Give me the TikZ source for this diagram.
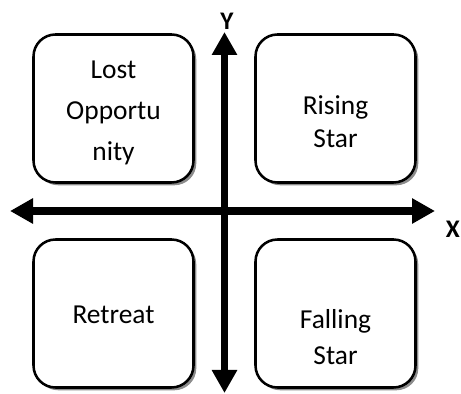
\documentclass[tikz,border=0pt]{standalone}
\usepackage{fontspec}
\setmainfont{Carlito}
\usetikzlibrary{arrows.meta}
\usetikzlibrary{shadows}

\tikzset{
  quadbox/.style={draw, line width=1.8pt, rounded corners=0.55cm, fill=white,
    minimum width=4.0cm, minimum height=3.7cm,
    drop shadow={shadow xshift=0.07cm, shadow yshift=-0.07cm, fill=black!45, opacity=1}},
  quadtext/.style={align=center, inner sep=0pt, font=\fontsize{19.5}{29}\selectfont},
  axis/.style={line width=0.19cm,
    {Triangle[length=0.575cm,width=0.6cm]}-{Triangle[length=0.575cm,width=0.6cm]}},
  axislabel/.style={inner sep=0pt, font=\fontsize{18}{18}\selectfont\bfseries}
}

\begin{document}
\begin{tikzpicture}
  \useasboundingbox (0,0) rectangle (11.525,9.85);

  % Quadrant boxes
  \node[quadbox] (lost)    at (2.8375,7.1375) {};
  \node[quadbox] (rising)  at (8.3875,7.1375) {};
  \node[quadbox] (retreat) at (2.8375,2.0125) {};
  \node[quadbox] (falling) at (8.3875,2.0125) {};

  % Quadrant texts
  \node[quadtext] (lostt)    at ([yshift=-0.11cm]lost.center)    {Lost\\Opportu\\nity};
  \node[quadtext, font=\fontsize{19.5}{23.5}\selectfont]
                  (risingt)  at ([yshift=-0.34cm]rising.center)  {Rising\\Star};
  \node[quadtext] (retreatt) at ([yshift=-0.04cm]retreat.center) {Retreat};
  \node[quadtext, font=\fontsize{19.5}{26}\selectfont]
                  (fallingt) at ([yshift=-0.59cm]falling.center) {Falling\\Star};

  % Axes
  \coordinate (xl) at (0.25,4.575);
  \coordinate (xr) at (10.875,4.575);
  \coordinate (yb) at (5.6125,0.025);
  \coordinate (yt) at (5.6125,9.05);
  \draw[axis] (xl) -- (xr);
  \draw[axis] (yb) -- (yt);

  % Axis labels
  \node[axislabel] (ylab) at (5.675,9.31) {Y};
  \node[axislabel] (xlab) at (11.32,4.11) {X};
\end{tikzpicture}
\end{document}
